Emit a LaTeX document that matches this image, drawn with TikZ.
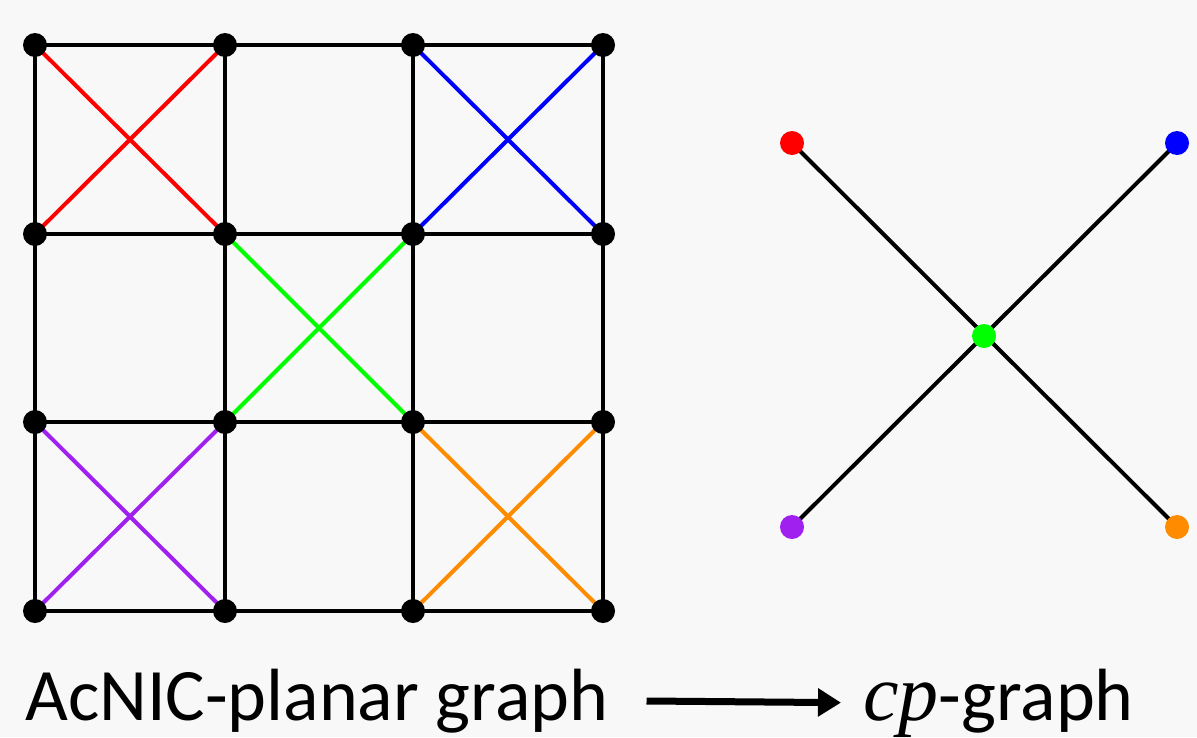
\documentclass[tikz,border=0pt]{standalone}
\usepackage{fontspec}
\setmainfont{Carlito}
\newfontfamily\cpfont{Liberation Serif}
\usepackage{xcolor}
\definecolor{paper}{HTML}{F8F8F8}
\definecolor{cpred}{HTML}{FF0000}
\definecolor{cpblue}{HTML}{0000FF}
\definecolor{cpgreen}{HTML}{00FF00}
\definecolor{cppurple}{HTML}{A020F0}
\definecolor{cporange}{HTML}{FF8C00}
\usetikzlibrary{positioning, arrows.meta, backgrounds}

\begin{document}
\begin{tikzpicture}[
  x=1pt, y=-1pt,
  vertex/.style={circle, fill=black, inner sep=0pt, minimum size=24pt},
  edge/.style={line width=4pt, black},
  cross/.style={line width=4pt},
  caption/.style={font=\fontsize{74}{80}\selectfont, anchor=base west, inner sep=0pt},
  flow/.style={-{Triangle[length=23pt, width=27pt]}, line width=7pt, black}
]

\useasboundingbox (0,0) rectangle (1197,737);

% ---- Grille 4x4 ----
\foreach \i/\x in {0/35, 1/225, 2/413, 3/603}
  \foreach \j/\y in {0/45, 1/234, 2/422, 3/611}
    \node[vertex] (v\i\j) at (\x,\y) {};

\begin{scope}[on background layer]
  % fond
  \fill[paper] (0,0) rectangle (1197,737);
  % aretes de la grille
  \foreach \i [evaluate=\i as \k using int(\i+1)] in {0,1,2}
    \foreach \j in {0,...,3} {
      \draw[edge] (v\i\j.center) -- (v\k\j.center);
      \draw[edge] (v\j\i.center) -- (v\j\k.center);
    }
  % croisements colores
  \foreach \i/\j/\c in {0/0/cpred, 2/0/cpblue, 1/1/cpgreen, 0/2/cppurple, 2/2/cporange} {
    \pgfmathtruncatemacro{\k}{\i+1}
    \pgfmathtruncatemacro{\l}{\j+1}
    \draw[cross, \c] (v\i\j.center) -- (v\k\l.center);
    \draw[cross, \c] (v\k\j.center) -- (v\i\l.center);
  }
\end{scope}

% ---- cp-graphe ----
\node[vertex, fill=cpgreen] (hub) at (984,336) {};
\node[vertex, fill=cpred] (cr) at (792,143) {};
\node[vertex, fill=cpblue] (cb) at (1177,143) {};
\node[vertex, fill=cppurple] (cv) at (792,527) {};
\node[vertex, fill=cporange] (co) at (1177,527) {};

\begin{scope}[on background layer]
  \draw[edge] (cr.center) -- (co.center);
  \draw[edge] (cv.center) -- (cb.center);
\end{scope}

% ---- Legende ----
\node[caption] (src) at (25,720) {AcNIC-planar graph};
\node[caption] (dst) at (863,720) {{\cpfont\itshape\fontsize{80}{80}\selectfont cp}-graph};

\draw[flow, shorten <=38pt, shorten >=22pt] (src.east) -- (dst.west);

\end{tikzpicture}
\end{document}
